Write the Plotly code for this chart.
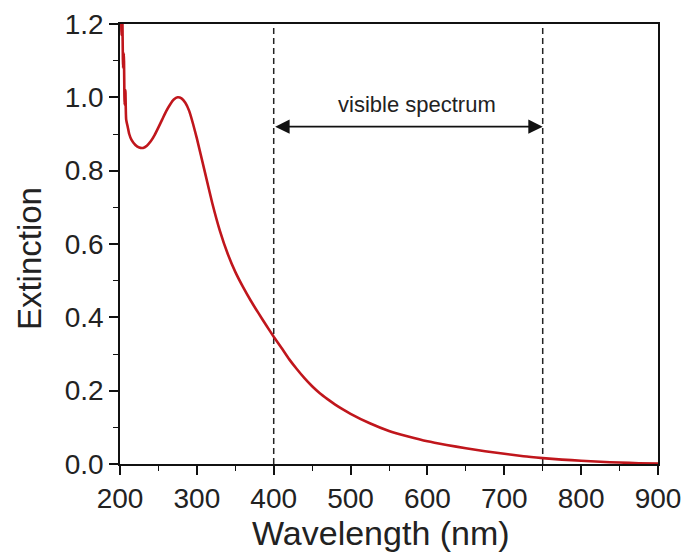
import plotly.graph_objects as go

# ---- data ----
wavelength = [200, 201, 202, 203, 204, 205, 206, 207, 208, 210, 212, 215, 220, 225, 230,
              235, 240, 245, 250, 255, 260, 265, 270, 275, 280, 285, 290, 295, 300,
              310, 320, 330, 340, 350, 360, 370, 380, 390, 400, 410, 420, 430, 440,
              450, 460, 470, 480, 490, 500, 525, 550, 575, 600, 625, 650, 675, 700,
              725, 750, 775, 800, 825, 850, 875, 900]
extinction = [1.60, 1.35, 1.17, 1.22, 1.08, 1.12, 0.98, 1.02, 0.94, 0.920, 0.900, 0.884,
              0.870, 0.863, 0.862, 0.868, 0.880, 0.897, 0.918, 0.940, 0.962, 0.980,
              0.994, 1.000, 0.997, 0.985, 0.963, 0.928, 0.888, 0.800, 0.712, 0.636,
              0.574, 0.524, 0.483, 0.446, 0.412, 0.379, 0.347, 0.317, 0.286, 0.259,
              0.234, 0.212, 0.193, 0.177, 0.162, 0.149, 0.137, 0.111, 0.090, 0.075,
              0.062, 0.052, 0.043, 0.035, 0.028, 0.021, 0.016, 0.012, 0.009, 0.006,
              0.004, 0.002, 0.001]

visible_range = [400, 750]
arrow_level = 0.92
label_text = "visible spectrum"
x_title = "Wavelength (nm)"
y_title = "Extinction"
x_ticks = [200, 300, 400, 500, 600, 700, 800, 900]
y_ticks = [0.0, 0.2, 0.4, 0.6, 0.8, 1.0, 1.2]

FONT = "Liberation Sans, Arial, sans-serif"

fig = go.Figure()
fig.add_trace(go.Scatter(
    x=wavelength, y=extinction, mode="lines",
    line=dict(color="#c0161c", width=2.6, shape="spline", smoothing=0.5),
    showlegend=False, hoverinfo="skip"))

for xv in visible_range:
    fig.add_shape(type="line", xref="x", yref="y", x0=xv, x1=xv, y0=0, y1=1.2,
                  line=dict(color="#222", width=1.5, dash="6px,4px"), layer="below")

fig.add_annotation(x=visible_range[1], y=arrow_level, ax=visible_range[0], ay=arrow_level,
                   xref="x", yref="y", axref="x", ayref="y", text="",
                   showarrow=True, arrowhead=2, arrowside="end+start",
                   arrowsize=1.8, arrowwidth=1.6, arrowcolor="#111", standoff=0, startstandoff=0)
fig.add_annotation(x=(visible_range[0] + visible_range[1]) / 2 + 12, y=arrow_level,
                   xref="x", yref="y", text=label_text, showarrow=False,
                   yanchor="bottom", yshift=8,
                   font=dict(family=FONT, size=22, color="#222"))

# axis titles placed as paper annotations to match the reference offsets
fig.add_annotation(x=0.485, y=-0.157, xref="paper", yref="paper", text=x_title,
                   showarrow=False, xanchor="center", yanchor="middle",
                   font=dict(family=FONT, size=34, color="#222"))
fig.add_annotation(x=-0.167, y=0.466, xref="paper", yref="paper", text=y_title,
                   showarrow=False, xanchor="center", yanchor="middle", textangle=-90,
                   font=dict(family=FONT, size=33, color="#222"))

axis_common = dict(
    showline=True, linecolor="#111", linewidth=1.6, mirror=True,
    ticks="outside", ticklen=9, tickwidth=1.6, tickcolor="#111",
    showgrid=False, zeroline=False,
    tickfont=dict(family=FONT, size=28, color="#222"),
)

fig.update_xaxes(range=[200, 900], tickvals=x_ticks,
                 minor=dict(dtick=50, ticks="outside", ticklen=5, tickwidth=1.4, tickcolor="#111", showgrid=False),
                 **axis_common)
fig.update_yaxes(range=[0, 1.2], tickvals=y_ticks, tickformat=".1f",
                 minor=dict(dtick=0.1, ticks="outside", ticklen=5, tickwidth=1.4, tickcolor="#111", showgrid=False),
                 **axis_common)

fig.update_layout(
    width=689, height=557,
    margin=dict(l=120, r=31, t=24, b=93, autoexpand=False),
    paper_bgcolor="white", plot_bgcolor="white",
)

fig.write_html("out.html")
